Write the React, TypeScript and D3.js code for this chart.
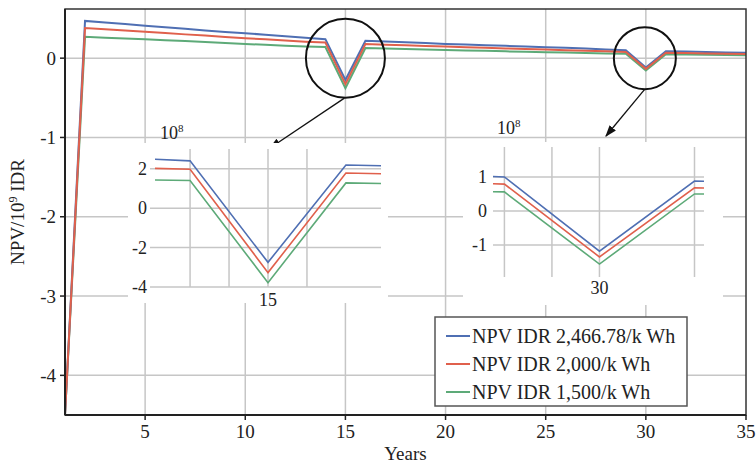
import React from 'react';
import * as d3 from 'd3';

// years on the x axis
const years: number[] = d3.range(1, 36);

// NPV in 10^9 IDR, one value per year
const npvHigh: number[] = [
  -4.5, 0.47, 0.45, 0.43, 0.41, 0.39, 0.37, 0.35, 0.33, 0.315, 0.295, 0.275, 0.257, 0.24,
  -0.275, 0.219, 0.21, 0.2, 0.19, 0.18, 0.172, 0.163, 0.155, 0.146, 0.138, 0.13, 0.121, 0.11,
  0.1, -0.118, 0.088, 0.083, 0.078, 0.072, 0.067,
];
const npvMid: number[] = [
  -4.5, 0.38, 0.365, 0.35, 0.333, 0.318, 0.3, 0.285, 0.268, 0.252, 0.237, 0.222, 0.208, 0.197,
  -0.327, 0.178, 0.17, 0.162, 0.154, 0.146, 0.138, 0.131, 0.123, 0.116, 0.108, 0.1, 0.093, 0.086,
  0.079, -0.135, 0.068, 0.064, 0.06, 0.057, 0.053,
];
const npvLow: number[] = [
  -4.5, 0.27, 0.259, 0.248, 0.237, 0.226, 0.215, 0.204, 0.192, 0.18, 0.168, 0.157, 0.146, 0.14,
  -0.378, 0.128, 0.122, 0.116, 0.11, 0.104, 0.098, 0.092, 0.086, 0.08, 0.075, 0.07, 0.065, 0.06,
  0.056, -0.156, 0.05, 0.047, 0.044, 0.041, 0.038,
];

const seriesNames = ['NPV IDR 2,466.78/k Wh', 'NPV IDR 2,000/k Wh', 'NPV IDR 1,500/k Wh'];
const seriesColors = ['#4f6fb3', '#e0604c', '#5daa78'];

const xTicks = [5, 10, 15, 20, 25, 30, 35];
const yTicks = [0, -1, -2, -3, -4];

// zoomed panels (values shown in 10^8)
const inset1Grid = [14, 14.5, 15, 15.5];
const inset1YTicks = [2, 0, -2, -4];
const inset2Grid = [29, 29.5, 30, 31];
const inset2YTicks = [1, 0, -1];

const font = "'Liberation Serif', 'DejaVu Serif', serif";
const grid = '#c6c6c6';

const App: React.FC = () => {
  const width = 756;
  const height = 464;
  const m = { left: 65, right: 746, top: 9, bottom: 415 };

  const x = d3.scaleLinear().domain([1, 35]).range([m.left, m.right]);
  const y = d3.scaleLinear().domain([-4.5, 0.62]).range([m.bottom, m.top]);

  const series = [npvHigh, npvMid, npvLow];
  const drawOrder = [2, 0, 1];

  const mainLine = d3.line<number>()
    .x((_, i) => x(years[i]))
    .y(d => y(d));

  // inset 1
  const x1 = d3.scaleLinear().domain([13.55, 16.45]).range([155, 381]);
  const y1 = d3.scaleLinear().domain([-4, 3]).range([287, 149]);
  const line1 = d3.line<number>().x((_, i) => x1(years[i])).y(d => y1(d * 10));

  // inset 2
  const x2 = d3.scaleLinear().domain([28.88, 31.1]).range([493, 704]);
  const y2 = d3.scaleLinear().domain([-1.94, 1.88]).range([277, 147]);
  const line2 = d3.line<number>().x((_, i) => x2(years[i])).y(d => y2(d * 10));

  const legendRows = [0, 1, 2];

  return (
    <svg width={width} height={height} style={{ position: 'absolute', left: 0, top: 0, background: '#fff', fontFamily: font }}>
      <defs>
        <clipPath id="clip-main"><rect x={m.left} y={m.top} width={m.right - m.left} height={m.bottom - m.top} /></clipPath>
        <clipPath id="clip-in1"><rect x={x1(13.55)} y={140} width={x1(16.45) - x1(13.55)} height={160} /></clipPath>
        <clipPath id="clip-in2"><rect x={x2(28.88)} y={140} width={x2(31.1) - x2(28.88)} height={160} /></clipPath>
        <marker id="arrow" viewBox="0 0 10 10" refX="9" refY="5" markerWidth="9" markerHeight="9" orient="auto">
          <path d="M0,1.5 L10,5 L0,8.5 Z" fill="#111" />
        </marker>
      </defs>

      {/* main grid */}
      {xTicks.filter(t => t < 35).map(t => (
        <line key={'gx' + t} x1={x(t)} x2={x(t)} y1={m.top} y2={m.bottom} stroke={grid} strokeWidth={1.5} />
      ))}
      {yTicks.map(t => (
        <line key={'gy' + t} x1={m.left} x2={m.right} y1={y(t)} y2={y(t)} stroke={grid} strokeWidth={1.5} />
      ))}

      {/* main lines */}
      <g clipPath="url(#clip-main)">
        {drawOrder.map(k => (
          <path key={'m' + k} d={mainLine(series[k]) || ''} fill="none" stroke={seriesColors[k]} strokeWidth={2} />
        ))}
      </g>

      {/* frame */}
      <rect x={m.left} y={m.top} width={m.right - m.left} height={m.bottom - m.top} fill="none" stroke="#333" strokeWidth={1.5} />
      <line x1={m.left} x2={m.left} y1={m.top} y2={m.bottom} stroke="#222" strokeWidth={2} />
      <line x1={m.left} x2={m.right} y1={m.bottom} y2={m.bottom} stroke="#222" strokeWidth={2} />

      {/* axes ticks and labels */}
      {xTicks.map(t => (
        <g key={'xt' + t}>
          <line x1={x(t)} x2={x(t)} y1={m.bottom} y2={m.bottom + 5} stroke="#222" strokeWidth={1.5} />
          <text x={x(t)} y={m.bottom + 23} textAnchor="middle" fontSize={19} fill="#222">{t}</text>
        </g>
      ))}
      {yTicks.map(t => (
        <g key={'yt' + t}>
          <line x1={m.left - 5} x2={m.left} y1={y(t)} y2={y(t)} stroke="#222" strokeWidth={1.5} />
          <text x={m.left - 9} y={y(t)} dy="0.35em" textAnchor="end" fontSize={19} fill="#222">{t}</text>
        </g>
      ))}
      <text x={(m.left + m.right) / 2} y={460} textAnchor="middle" fontSize={19} fill="#222">Years</text>
      <text transform={`translate(24, ${(m.top + m.bottom) / 2}) rotate(-90)`} textAnchor="middle" fontSize={19} fill="#222">
        NPV/10<tspan dy={-7} fontSize={12}>9</tspan><tspan dy={7}> IDR</tspan>
      </text>

      {/* highlight circles and arrows */}
      <circle cx={x(15)} cy={y(0)} r={39.5} fill="none" stroke="#111" strokeWidth={2} />
      <circle cx={x(29.95)} cy={y(0)} r={31} fill="none" stroke="#111" strokeWidth={2} />
      <line x1={x(14.95)} y1={y(0) + 40} x2={270} y2={148} stroke="#111" strokeWidth={1.3} markerEnd="url(#arrow)" />
      <line x1={x(29.95)} y1={y(0) + 31} x2={606} y2={136} stroke="#111" strokeWidth={1.3} markerEnd="url(#arrow)" />

      {/* inset 1 */}
      <rect x={128} y={143} width={260} height={160} fill="#fff" />
      <text x={160} y={139} fontSize={18} fill="#222">10<tspan dy={-7} fontSize={11}>8</tspan></text>
      {inset1Grid.map(t => (
        <line key={'i1x' + t} x1={x1(t)} x2={x1(t)} y1={y1(3)} y2={y1(-4)} stroke={grid} strokeWidth={1.5} />
      ))}
      {inset1YTicks.map(t => (
        <g key={'i1y' + t}>
          <line x1={150} x2={x1(16.45)} y1={y1(t)} y2={y1(t)} stroke={grid} strokeWidth={1.5} />
          <text x={147} y={y1(t)} dy="0.35em" textAnchor="end" fontSize={18} fill="#222">{t}</text>
        </g>
      ))}
      <text x={x1(15)} y={y1(-4) + 19} textAnchor="middle" fontSize={18} fill="#222">15</text>
      <g clipPath="url(#clip-in1)">
        {[0, 1, 2].map(k => (
          <path key={'i1' + k} d={line1(series[k]) || ''} fill="none" stroke={seriesColors[k]} strokeWidth={1.6} />
        ))}
      </g>

      {/* inset 2 */}
      <rect x={463} y={142} width={260} height={163} fill="#fff" />
      <text x={497} y={134} fontSize={18} fill="#222">10<tspan dy={-7} fontSize={11}>8</tspan></text>
      {inset2Grid.map(t => (
        <line key={'i2x' + t} x1={x2(t)} x2={x2(t)} y1={y2(1.88)} y2={y2(-1.94)} stroke={grid} strokeWidth={1.5} />
      ))}
      {inset2YTicks.map(t => (
        <g key={'i2y' + t}>
          <line x1={x2(28.88)} x2={x2(31.1)} y1={y2(t)} y2={y2(t)} stroke={grid} strokeWidth={1.5} />
          <text x={487} y={y2(t)} dy="0.35em" textAnchor="end" fontSize={18} fill="#222">{t}</text>
        </g>
      ))}
      <text x={x2(30)} y={y2(-1.94) + 17} textAnchor="middle" fontSize={18} fill="#222">30</text>
      <g clipPath="url(#clip-in2)">
        {[0, 1, 2].map(k => (
          <path key={'i2' + k} d={line2(series[k]) || ''} fill="none" stroke={seriesColors[k]} strokeWidth={1.6} />
        ))}
      </g>

      {/* legend */}
      <rect x={435} y={317} width={252} height={89} fill="#fff" stroke="#555" strokeWidth={1.5} />
      {legendRows.map(k => (
        <g key={'lg' + k}>
          <line x1={446} x2={470} y1={336 + k * 28} y2={336 + k * 28} stroke={seriesColors[k]} strokeWidth={2} />
          <text x={472} y={336 + k * 28} dy="0.35em" fontSize={20} fill="#222">{seriesNames[k]}</text>
        </g>
      ))}
    </svg>
  );
};

export default App;
